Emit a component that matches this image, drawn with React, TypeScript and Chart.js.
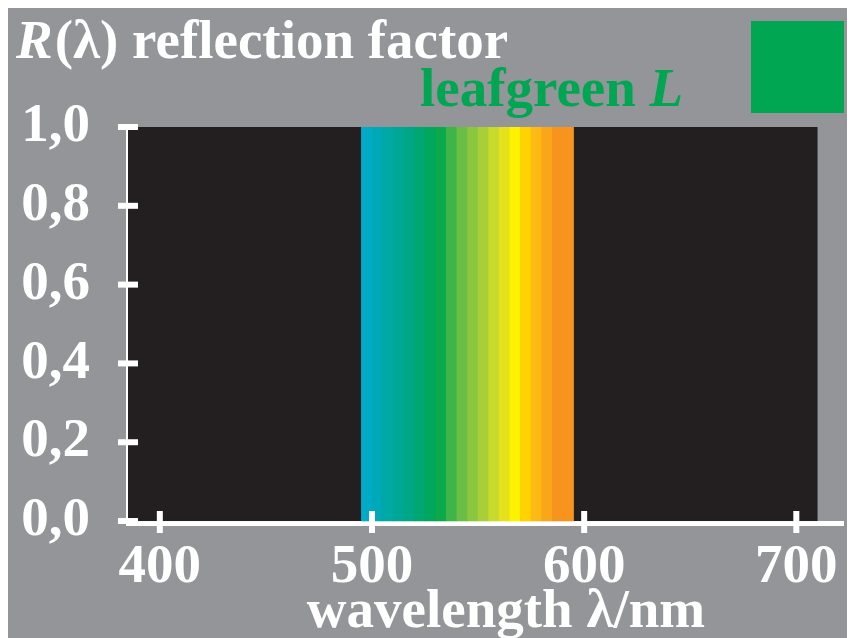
import { useEffect, useRef } from 'react';
import { Chart, registerables } from 'chart.js';

Chart.register(...registerables);

// ---- data ----
const stripeWavelengths = [
  497.5, 502.5, 507.5, 512.5, 517.5, 522.5, 527.5, 532.5, 537.5, 542.5,
  547.5, 552.5, 557.5, 562.5, 567.5, 572.5, 577.5, 582.5, 587.5, 592.5,
];
const stripeReflectance = [
  1.0, 1.0, 1.0, 1.0, 1.0, 1.0, 1.0, 1.0, 1.0, 1.0,
  1.0, 1.0, 1.0, 1.0, 1.0, 1.0, 1.0, 1.0, 1.0, 1.0,
];
const stripeColors = [
  '#00aac8', '#00a9b8', '#00a8a6', '#00a797', '#00a787', '#00a771', '#00a75c', '#0aa94c', '#3fb549', '#6abd45',
  '#8cc63f', '#a8cf38', '#c8da2b', '#e5e21b', '#fff200', '#ffd200', '#fdb914', '#faa61a', '#f7941d', '#f7941d',
];
const xTickValues = [400, 500, 600, 700];
const yTickValues = [0, 0.2, 0.4, 0.6, 0.8, 1.0];
const xMin = 385;
const xMax = 722;
const yMin = -0.005;
const yMax = 1.0;
const plotEnd = 710;

const titleItalic = 'R';
const titleRest = '(λ) reflection factor';
const sampleName = 'leafgreen ';
const sampleLetter = 'L';
const xAxisTitle = 'wavelength λ/nm';

const GREY = '#939598';
const BLACK = '#231f20';
const GREEN = '#00a651';
const FONT = '"Liberation Serif", "Times New Roman", serif';

const plotBackground = {
  id: 'plotBackground',
  beforeDatasetsDraw(chart: any) {
    const { ctx, chartArea, scales } = chart;
    const xs = scales.x;
    const ys = scales.y;
    const right = xs.getPixelForValue(plotEnd);
    const top = ys.getPixelForValue(1);
    const bottom = ys.getPixelForValue(0);
    ctx.save();
    ctx.fillStyle = BLACK;
    ctx.fillRect(chartArea.left, top, right - chartArea.left, bottom - top);
    ctx.restore();
  },
};

const decorations = {
  id: 'decorations',
  afterDraw(chart: any) {
    const { ctx, chartArea, scales } = chart;
    const xs = scales.x;
    const ys = scales.y;
    ctx.save();
    ctx.strokeStyle = '#ffffff';
    ctx.lineWidth = 6;
    // crossing tick marks on x axis
    xs.ticks.forEach((t: any) => {
      const px = xs.getPixelForValue(t.value);
      ctx.beginPath();
      ctx.moveTo(px, chartArea.bottom - 12);
      ctx.lineTo(px, chartArea.bottom + 10);
      ctx.stroke();
    });
    // crossing tick marks on y axis
    ys.ticks.forEach((t: any) => {
      const py = ys.getPixelForValue(t.value);
      ctx.beginPath();
      ctx.moveTo(chartArea.left - 10, py);
      ctx.lineTo(chartArea.left + 10, py);
      ctx.stroke();
    });

    // title
    ctx.fillStyle = '#ffffff';
    ctx.textBaseline = 'alphabetic';
    ctx.textAlign = 'left';
    ctx.font = `italic bold 55px ${FONT}`;
    ctx.fillText(titleItalic, 8, 50);
    let x = 8 + ctx.measureText(titleItalic).width + 2;
    ctx.font = `bold 55px ${FONT}`;
    ctx.fillText(titleRest, x, 50);

    // sample name
    ctx.fillStyle = GREEN;
    ctx.font = `bold 55px ${FONT}`;
    ctx.fillText(sampleName, 412, 98);
    x = 412 + ctx.measureText(sampleName).width;
    ctx.font = `italic bold 55px ${FONT}`;
    ctx.fillText(sampleLetter, x, 98);

    // swatch
    ctx.fillStyle = GREEN;
    ctx.fillRect(743, 13, 93, 92);

    // x axis title
    ctx.fillStyle = '#ffffff';
    ctx.font = `bold 55px ${FONT}`;
    ctx.textAlign = 'center';
    ctx.fillText(xAxisTitle, 498, 619);
    ctx.restore();
  },
};

export default function App() {
  const canvasRef = useRef<HTMLCanvasElement | null>(null);

  useEffect(() => {
    const canvas = canvasRef.current;
    if (!canvas) return;
    const chart = new Chart(canvas, {
      type: 'bar',
      data: {
        datasets: [
          {
            data: stripeWavelengths.map((w, i) => ({ x: w, y: stripeReflectance[i] })),
            backgroundColor: stripeColors,
            borderWidth: 0,
            barPercentage: 1,
            categoryPercentage: 1,
          },
        ],
      },
      options: {
        animation: false,
        responsive: false,
        maintainAspectRatio: false,
        events: [],
        layout: { padding: { left: 0, right: 12, top: 119, bottom: 0 } },
        plugins: {
          legend: { display: false },
          title: { display: false },
          tooltip: { enabled: false },
        },
        scales: {
          x: {
            type: 'linear',
            min: xMin,
            max: xMax,
            offset: false,
            grid: { display: false },
            border: { display: true, color: '#ffffff', width: 5 },
            afterFit: (s: any) => {
              s.height = 115;
            },
            afterBuildTicks: (s: any) => {
              s.ticks = xTickValues.map((v) => ({ value: v }));
            },
            ticks: {
              color: '#ffffff',
              padding: 4,
              autoSkip: false,
              maxRotation: 0,
              font: { family: FONT, size: 55, weight: 'bold', lineHeight: 1.2 },
              callback: (v: any) => String(v),
            },
          },
          y: {
            type: 'linear',
            min: yMin,
            max: yMax,
            grid: { display: false },
            border: { display: true, color: '#ffffff', width: 5 },
            afterFit: (s: any) => {
              s.width = 120;
            },
            afterBuildTicks: (s: any) => {
              s.ticks = yTickValues.map((v) => ({ value: v }));
            },
            ticks: {
              color: '#ffffff',
              padding: 30,
              autoSkip: false,
              font: { family: FONT, size: 55, weight: 'bold', lineHeight: 1.2 },
              callback: (v: any) => Number(v).toFixed(1).replace('.', ','),
            },
          },
        },
      },
      plugins: [plotBackground, decorations],
    } as any);
    return () => chart.destroy();
  }, []);

  return (
    <div style={{ width: 847, height: 630, background: GREY }}>
      <canvas ref={canvasRef} width={847} height={630} style={{ display: 'block', width: 847, height: 630 }} />
    </div>
  );
}
